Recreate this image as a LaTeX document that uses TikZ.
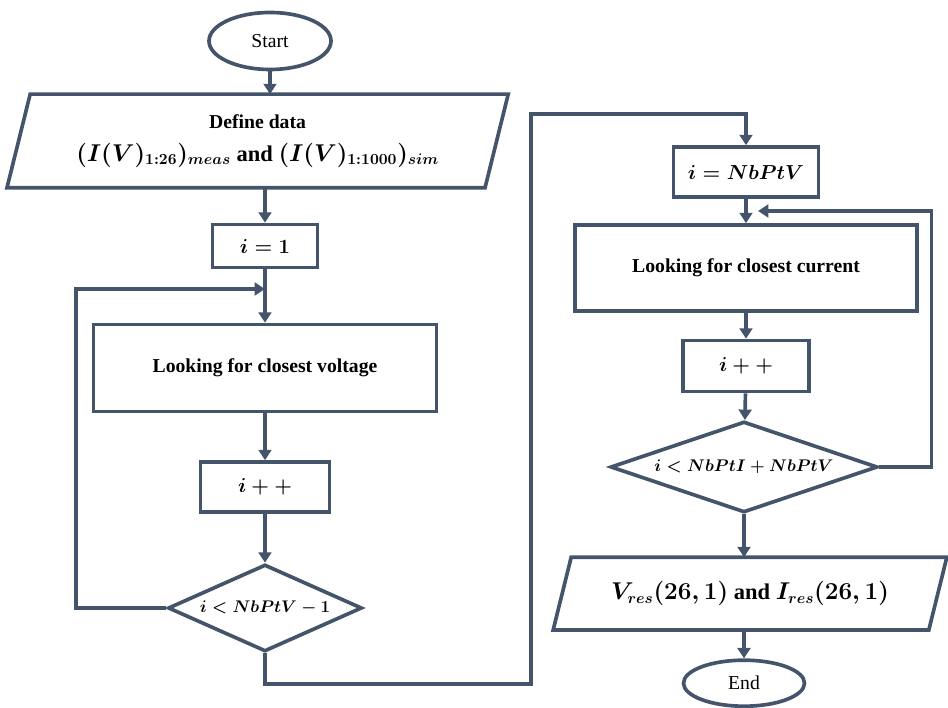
\documentclass[tikz,border=0pt]{standalone}
\usepackage{amsmath}
\usepackage{fontspec}
\setmainfont{Liberation Serif}
\usepackage{tikz}
\usetikzlibrary{shapes.geometric, arrows.meta}
\definecolor{slate}{HTML}{44546A}
\tikzset{
    block/.style={draw=slate, line width=2.6pt, fill=white, font=\fontsize{14}{17}\selectfont\bfseries\boldmath},
    terminal/.style={block, ellipse, font=\fontsize{14}{17}\selectfont},
    process/.style={block, rectangle},
    io/.style={block, rectangle, draw=none, fill=none, align=center},
    decision/.style={block, diamond, inner sep=0pt, font=\fontsize{13}{16}\selectfont\bfseries\boldmath},
    arrow/.style={-{Triangle[length=2.6mm, width=3.2mm]}, draw=slate, line width=2.6pt},
    line/.style={draw=slate, line width=2.6pt}
}
% outline of a data (parallelogram) node, #2 is half of its slant
\newcommand{\slantframe}[2]{%
    \draw[line] ([xshift=-#2]#1.south west) -- ([xshift=#2]#1.north west)
        -- ([xshift=#2]#1.north east) -- ([xshift=-#2]#1.south east) -- cycle;}

\begin{document}
\begin{tikzpicture}
    \useasboundingbox (0,0) rectangle (23.7,17.7);

    % Voltage search (left column)
    \node[terminal, minimum width=3.05cm, minimum height=1.425cm] (start) at (6.75, 16.675) {Start};
    \node[io, minimum width=11.86cm, minimum height=2.25cm] (define) at (6.44, 14.175) {
        Define data\\[6pt]
        {\fontsize{16}{19}\selectfont $(I(V)_{1:26})_{meas}$ and $(I(V)_{1:1000})_{sim}$}
    };
    \slantframe{define}{0.29cm}
    \node[process, minimum width=2.625cm, minimum height=1.075cm] (i1) at (6.625, 11.55) {$i=1$};
    \node[process, minimum width=8.575cm, minimum height=2.175cm] (volt) at (6.625, 8.5) {Looking for closest voltage};
    \node[process, minimum width=3.225cm, minimum height=1.25cm] (inc1) at (6.625, 5.525) {$i++$};
    \node[decision, aspect=2.23, minimum width=4.85cm, minimum height=2.175cm] (dec1) at (6.625, 2.5) {$i<NbPtV-1$};

    % Current search (right column)
    \node[process, minimum width=3.625cm, minimum height=1.25cm] (iN) at (18.65, 13.4) {$i=NbPtV$};
    \node[process, minimum width=8.55cm, minimum height=2.15cm] (cur) at (18.65, 11.0) {Looking for closest current};
    \node[process, minimum width=3.15cm, minimum height=1.275cm] (inc2) at (18.65, 8.55) {$i++$};
    \node[decision, aspect=2.93, minimum width=6.675cm, minimum height=2.275cm] (dec2) at (18.6, 6.025) {$i<NbPtI+NbPtV$};
    \node[io, minimum width=9.3cm, minimum height=1.725cm, font=\fontsize{16}{19}\selectfont\bfseries\boldmath] (out) at (18.75, 2.86) {$V_{res}(26,1)$ and $I_{res}(26,1)$};
    \slantframe{out}{0.225cm}
    \node[terminal, minimum width=3.025cm, minimum height=1.15cm] (end) at (18.6, 0.62) {End};

    % Bends of the loops
    \coordinate (join1) at (6.625, 10.475);
    \coordinate (join2) at (18.95, 12.425);
    \coordinate (bend1) at (13.275, 0.6);
    \coordinate (bend2) at (13.275, 14.85);

    % Arrows
    \draw[arrow] (start.south) -- (start.south |- define.north);
    \draw[arrow] (i1 |- define.south) -- (i1.north);
    \draw[arrow] (i1.south) -- (volt.north);
    \draw[arrow] (volt) -- (inc1);
    \draw[arrow] (inc1) -- (dec1);
    \draw[arrow] (dec1.west) -- ++(-2.25,0) |- (join1);
    \draw[arrow] (dec1.south) |- (bend1) -- (bend2) -| (iN.north);
    \draw[arrow] (iN) -- (cur);
    \draw[arrow] (cur) -- (inc2);
    \draw[arrow] (inc2) -- (dec2);
    \draw[arrow] (dec2.east) -- ++(1.3,0) |- (join2);
    \draw[arrow] (dec2.south) -- (dec2.south |- out.north);
    \draw[arrow] (end |- out.south) -- (end.north);
\end{tikzpicture}
\end{document}
